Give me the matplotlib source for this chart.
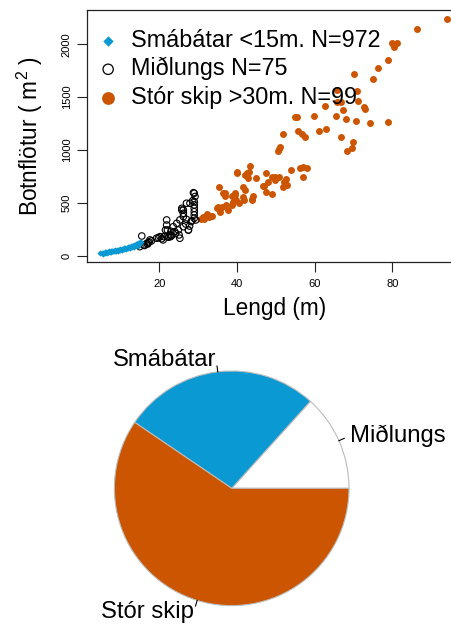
import matplotlib
matplotlib.use('Agg')
import matplotlib.pyplot as plt
import numpy as np

plt.rcParams['font.family'] = ['Liberation Sans', 'DejaVu Sans']

# Smábátar (<15m) - length (m), bottom area (m2)
small_len = [4.7, 5.2, 5.6, 6.0, 6.0, 6.4, 6.8, 7.0, 7.3, 7.6, 7.9, 8.0, 8.3, 8.6, 8.9,
             9.0, 9.3, 9.6, 9.9, 10.0, 10.3, 10.6, 10.9, 11.0, 11.3, 11.6, 11.9, 12.0,
             12.3, 12.6, 12.9, 13.0, 13.3, 13.6, 13.9, 14.0, 14.3, 14.6, 14.8, 15.0, 15.2,
             7.5, 8.5, 9.5, 10.5, 11.5, 12.5, 13.5, 14.5, 6.5, 5.5]
small_area = [22, 24, 27, 29, 34, 32, 35, 40, 37, 42, 40, 47, 44, 50, 47,
              54, 52, 58, 55, 62, 60, 66, 64, 72, 69, 76, 74, 82,
              80, 87, 85, 94, 92, 100, 98, 107, 110, 117, 114, 125, 130,
              34, 40, 48, 56, 64, 72, 82, 95, 26, 20]

# Miðlungs (15-30m)
mid_len = [29.0, 27.0, 27.9, 29.0, 29.0, 29.0, 29.0, 29.0, 29.0, 29.4, 28.2, 26.2, 26.2,
           26.2, 27.0, 25.3, 24.5, 21.9, 21.9, 22.1, 23.6, 24.0, 24.9, 26.2, 27.5, 22.8,
           21.2, 22.0, 22.9, 20.2, 19.3, 17.6, 17.2, 16.8, 15.5, 15.0, 15.9, 21.0, 25.3,
           28.8, 25.8, 25.8, 21.6, 27.5, 25.1, 16.2, 17.0, 17.4, 18.0, 19.8, 23.2, 24.2,
           28.6, 29.2, 26.8, 20.6, 22.4, 23.0, 27.8, 28.4]
mid_area = [590, 496, 496, 511, 480, 448, 416, 385, 354, 338, 322, 432, 401,
            369, 344, 338, 306, 338, 290, 243, 274, 227, 243, 274, 243, 196,
            180, 180, 180, 180, 165, 149, 123, 117, 186, 85, 101, 149, 165,
            596, 448, 432, 243, 243, 196, 96, 110, 130, 140, 170, 190, 210,
            520, 560, 300, 160, 175, 230, 280, 330]

# Stór skip (>30m)
big_len = [94.0, 86.4, 79.8, 81.1, 80.4, 80.2, 78.9, 76.2, 75.1, 70.1, 70.8, 71.2, 65.7,
           66.9, 67.4, 72.8, 72.9, 65.5, 68.1, 70.6, 74.2, 78.9, 66.8, 69.8, 69.5, 68.2,
           62.6, 65.8, 54.9, 55.4, 59.9, 55.6, 56.7, 57.5, 61.2, 62.9, 51.9, 51.1, 50.8,
           50.6, 43.3, 39.9, 42.1, 43.2, 42.9, 44.9, 47.6, 48.9, 49.8, 50.9, 52.6, 53.9,
           56.2, 57.1, 57.9, 56.9, 52.6, 52.1, 46.9, 47.6, 48.9, 41.6, 42.1, 39.5, 38.6,
           41.5, 41.8, 43.8, 39.0, 39.7, 38.6, 35.4, 36.5, 36.9, 39.5, 37.2, 36.1, 34.8,
           35.6, 32.2, 33.5, 32.9, 31.6, 31.3, 35.2, 36.9, 40.1, 42.5, 43.9, 46.8, 51.9,
           52.8, 49.8, 44.0, 40.5, 37.8, 33.0, 30.8, 48.0]
big_area = [2237, 2148, 2015, 2010, 1972, 2003, 1852, 1773, 1672, 1716, 1558, 1466, 1457,
            1457, 1378, 1410, 1385, 1322, 1290, 1277, 1253, 1268, 1126, 1079, 1022, 991,
            1419, 1566, 1315, 1315, 1325, 1180, 1149, 1120, 1180, 1196, 1149, 1031, 1007,
            993, 849, 795, 764, 795, 732, 738, 785, 742, 716, 747, 723, 811,
            827, 842, 827, 742, 669, 697, 659, 606, 584, 653, 622, 590, 565,
            558, 527, 534, 511, 527, 480, 653, 590, 565, 574, 480, 464, 448,
            416, 395, 376, 369, 344, 369, 458, 596, 785, 780, 527, 659, 653,
            669, 747, 560, 500, 430, 380, 350, 700]

legend_labels = ['Smábátar <15m. N=972', 'Miðlungs N=75', 'Stór skip >30m. N=99']

# pie shares, drawn counter-clockwise from 3 o'clock
pie_labels = ['Miðlungs', 'Smábátar', 'Stór skip']
pie_values = [13.3, 27.2, 59.5]

blue = '#0A99D2'
orange = '#CB5500'
colors = ['white', blue, orange]

W, H = 452, 624
fig = plt.figure(figsize=(W / 100, H / 100), dpi=100)

# scatter panel (right edge runs past the picture, as in the original)
ax = fig.add_axes([87 / W, 1 - 262 / H, 375.7 / W, 251.7 / H])
ax.scatter(small_len, small_area, marker='D', s=10, color=blue, linewidths=0, zorder=3)
ax.scatter(mid_len, mid_area, marker='o', s=22, facecolors='none',
           edgecolors='black', linewidths=0.8, zorder=2)
ax.scatter(big_len, big_area, marker='o', s=25, color=orange, linewidths=0, zorder=1)

ax.set_xlim(1.4, 98.1)
ax.set_ylim(-60, 2322)
ax.set_xticks([20, 40, 60, 80])
ax.set_yticks([0, 500, 1000, 1500, 2000])
ax.tick_params(axis='both', labelsize=8, length=7, width=0.8, color='#222222')
ax.tick_params(axis='x', pad=5)
for lab in ax.get_yticklabels():
    lab.set_rotation(90)
    lab.set_va('center')
ax.tick_params(axis='y', pad=4)
for sp in ax.spines.values():
    sp.set_linewidth(0.9)
    sp.set_color('#222222')

ax.set_xlabel('Lengd (m)', fontsize=16.3, labelpad=6)
ax.set_ylabel('Botnflötur ( m$^{\\mathregular{2}}$ )', fontsize=16.3, labelpad=12)

h1 = ax.scatter([], [], marker='D', s=28, color=blue, linewidths=0)
h2 = ax.scatter([], [], marker='o', s=55, facecolors='none', edgecolors='black', linewidths=0.9)
h3 = ax.scatter([], [], marker='o', s=85, color=orange, linewidths=0)
ax.legend([h1, h2, h3], legend_labels, loc='upper left', bbox_to_anchor=(0.019, 0.927),
          frameon=False, fontsize=16.8, handletextpad=0.36, labelspacing=0.23,
          borderaxespad=0, borderpad=0, handlelength=1.2)

# pie panel
pax = fig.add_axes([0, 0, 1, 294 / H])
cx, cy = 231.7, 488.3
r = 117.3
wedges, _ = pax.pie(pie_values, colors=colors, startangle=0, counterclock=True,
                    radius=1, wedgeprops=dict(edgecolor='#BBBBBB', linewidth=0.8))
cum = np.cumsum([0] + pie_values) / sum(pie_values) * 360
for i, lab in enumerate(pie_labels):
    mid = np.deg2rad((cum[i] + cum[i + 1]) / 2)
    c, s = np.cos(mid), np.sin(mid)
    pax.plot([c, 1.05 * c], [s, 1.05 * s], color='black', lw=0.8)
    pax.text(1.1 * c, 1.1 * s, lab, fontsize=17.2, ha='left' if c > 0 else 'right',
             va='center')
pax.set_xlim(-cx / r, (W - cx) / r)
pax.set_ylim(-(H - cy) / r, (cy - 330) / r)
pax.set_aspect('equal', adjustable='datalim')
pax.axis('off')

fig.savefig('out.png', dpi=100)
